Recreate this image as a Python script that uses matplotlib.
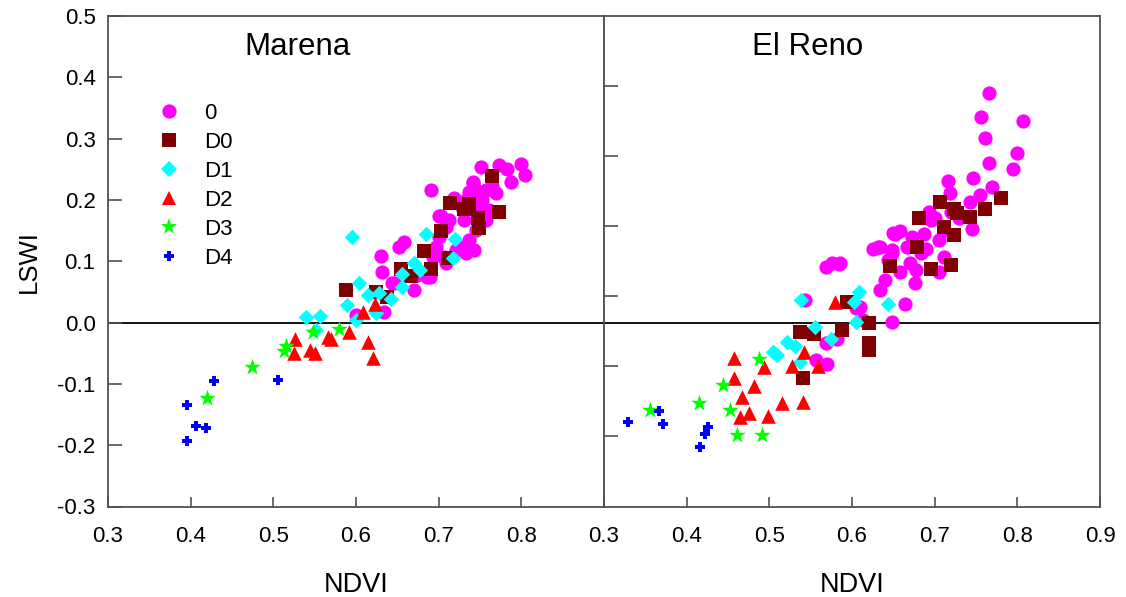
import matplotlib
matplotlib.use("Agg")
import matplotlib.pyplot as plt
import numpy as np
from matplotlib.lines import Line2D

plt.rcParams['font.family'] = ['Liberation Sans', 'DejaVu Sans']

categories = ['0', 'D0', 'D1', 'D2', 'D3', 'D4']
panel_titles = ['Marena', 'El Reno']
x_label = 'NDVI'
y_label = 'LSWI'
x_ticks = [0.3, 0.4, 0.5, 0.6, 0.7, 0.8, 0.9]
y_ticks = [-0.3, -0.2, -0.1, 0.0, 0.1, 0.2, 0.3, 0.4, 0.5]

# ---- Marena ----
mar_0_x = [0.691, 0.751, 0.773, 0.783, 0.800, 0.805, 0.787, 0.741, 0.737, 0.765, 0.719, 0.703, 0.731, 0.751,
           0.658, 0.652, 0.630, 0.631, 0.743, 0.689, 0.646, 0.670, 0.634, 0.600, 0.701, 0.713, 0.709, 0.701,
           0.697, 0.693, 0.707, 0.709, 0.721, 0.729, 0.733, 0.737, 0.745, 0.757, 0.761, 0.745, 0.729, 0.733,
           0.753, 0.769, 0.757, 0.745, 0.741, 0.686, 0.674, 0.644]
mar_0_y = [0.216, 0.253, 0.257, 0.250, 0.259, 0.241, 0.230, 0.227, 0.213, 0.222, 0.203, 0.173, 0.167, 0.167,
           0.132, 0.124, 0.108, 0.083, 0.118, 0.075, 0.065, 0.053, 0.018, 0.012, 0.173, 0.167, 0.156, 0.140,
           0.124, 0.107, 0.107, 0.097, 0.118, 0.124, 0.113, 0.135, 0.151, 0.167, 0.184, 0.184, 0.184, 0.200,
           0.200, 0.211, 0.216, 0.216, 0.230, 0.075, 0.077, 0.064]
mar_d0_x = [0.764, 0.714, 0.737, 0.731, 0.747, 0.749, 0.773, 0.703, 0.682, 0.691, 0.711, 0.654, 0.666, 0.588, 0.624, 0.638]
mar_d0_y = [0.239, 0.195, 0.193, 0.185, 0.170, 0.154, 0.181, 0.149, 0.117, 0.088, 0.105, 0.088, 0.076, 0.053, 0.050, 0.042]
mar_d1_x = [0.595, 0.685, 0.720, 0.717, 0.678, 0.670, 0.656, 0.604, 0.656, 0.614, 0.628, 0.642, 0.589, 0.624, 0.600,
            0.539, 0.557, 0.552]
mar_d1_y = [0.139, 0.144, 0.137, 0.105, 0.086, 0.097, 0.080, 0.064, 0.058, 0.045, 0.048, 0.039, 0.029, 0.015, 0.004,
            0.009, 0.011, -0.012]
mar_d2_x = [0.608, 0.623, 0.591, 0.614, 0.570, 0.526, 0.566, 0.621, 0.525, 0.544, 0.550]
mar_d2_y = [0.018, 0.031, -0.015, -0.031, -0.026, -0.026, -0.024, -0.058, -0.049, -0.044, -0.049]
mar_d3_x = [0.515, 0.513, 0.548, 0.579, 0.474, 0.420]
mar_d3_y = [-0.038, -0.046, -0.015, -0.010, -0.073, -0.123]
mar_d4_x = [0.428, 0.506, 0.395, 0.406, 0.418, 0.395]
mar_d4_y = [-0.095, -0.094, -0.135, -0.168, -0.172, -0.193]

# ---- El Reno ----
elr_0_x = [0.766, 0.756, 0.807, 0.761, 0.800, 0.766, 0.795, 0.746, 0.716, 0.769, 0.755, 0.719, 0.743, 0.693,
           0.729, 0.695, 0.745, 0.658, 0.652, 0.687, 0.711, 0.673, 0.705, 0.632, 0.648, 0.644, 0.666, 0.683,
           0.711, 0.670, 0.658, 0.677, 0.705, 0.586, 0.576, 0.568, 0.584, 0.634, 0.650, 0.648, 0.634, 0.648,
           0.610, 0.543, 0.568, 0.582, 0.557, 0.570, 0.605, 0.613, 0.664, 0.676, 0.690, 0.700, 0.720, 0.640, 0.625]
elr_0_y = [0.374, 0.336, 0.329, 0.301, 0.276, 0.260, 0.250, 0.235, 0.231, 0.221, 0.208, 0.211, 0.197, 0.181,
           0.170, 0.167, 0.152, 0.150, 0.144, 0.144, 0.151, 0.140, 0.135, 0.124, 0.118, 0.102, 0.124, 0.113,
           0.107, 0.097, 0.083, 0.086, 0.083, 0.097, 0.097, 0.091, 0.095, 0.124, 0.146, 0.113, 0.053, 0.001,
           0.026, 0.037, -0.034, -0.026, -0.061, -0.067, 0.023, 0.004, 0.031, 0.064, 0.120, 0.170, 0.180, 0.070, 0.120]
elr_d0_x = [0.780, 0.761, 0.743, 0.707, 0.723, 0.727, 0.681, 0.711, 0.723, 0.679, 0.646, 0.695, 0.720, 0.594,
            0.537, 0.554, 0.588, 0.620, 0.621, 0.621, 0.541]
elr_d0_y = [0.203, 0.186, 0.172, 0.197, 0.186, 0.178, 0.170, 0.156, 0.142, 0.124, 0.092, 0.087, 0.094, 0.034,
            -0.015, -0.018, -0.012, -0.001, -0.034, -0.045, -0.091]
elr_d1_x = [0.538, 0.608, 0.602, 0.605, 0.555, 0.574, 0.521, 0.531, 0.505, 0.509, 0.537, 0.643]
elr_d1_y = [0.037, 0.050, 0.034, 0.001, -0.007, -0.026, -0.031, -0.039, -0.048, -0.053, -0.064, 0.031]
elr_d2_x = [0.580, 0.457, 0.493, 0.542, 0.527, 0.559, 0.457, 0.481, 0.467, 0.515, 0.541, 0.475, 0.464, 0.498]
elr_d2_y = [0.034, -0.057, -0.073, -0.048, -0.071, -0.071, -0.091, -0.104, -0.122, -0.131, -0.129, -0.147, -0.154, -0.153]
elr_d3_x = [0.487, 0.444, 0.415, 0.453, 0.356, 0.461, 0.491]
elr_d3_y = [-0.060, -0.102, -0.131, -0.143, -0.142, -0.184, -0.184]
elr_d4_x = [0.329, 0.367, 0.371, 0.426, 0.422, 0.416]
elr_d4_y = [-0.162, -0.144, -0.166, -0.171, -0.181, -0.203]

colors = ['#FF00FF', '#7F0000', '#00FFFF', '#FF0000', '#00FF00', '#0000FF']
markers = ['o', 's', 'D', '^', '*', 'P']
sizes = [105, 90, 62, 110, 160, 55]

marena = [(mar_0_x, mar_0_y), (mar_d0_x, mar_d0_y), (mar_d1_x, mar_d1_y),
          (mar_d2_x, mar_d2_y), (mar_d3_x, mar_d3_y), (mar_d4_x, mar_d4_y)]
elreno = [(elr_0_x, elr_0_y), (elr_d0_x, elr_d0_y), (elr_d1_x, elr_d1_y),
          (elr_d2_x, elr_d2_y), (elr_d3_x, elr_d3_y), (elr_d4_x, elr_d4_y)]

fig = plt.figure(figsize=(11.26, 5.97), dpi=100)
W, H = 1126, 597
ax1 = fig.add_axes([108 / W, 1 - 506.5 / H, 496 / W, 490.5 / H])
ax2 = fig.add_axes([604 / W, 1 - 506.5 / H, 496 / W, 490.5 / H])

spine_col = '#505050'
for ax, data, title, tx in [(ax1, marena, panel_titles[0], 0.383), (ax2, elreno, panel_titles[1], 0.411)]:
    ax.set_xlim(0.3, 0.9)
    ax.set_ylim(-0.3, 0.5)
    ax.axhline(0.0, color='black', lw=1.3, zorder=1)
    for (xs, ys), c, m, s, lab in zip(data, colors, markers, sizes, categories):
        ax.scatter(xs, ys, s=s, marker=m, color=c, linewidths=0, zorder=3, label=lab)
    for sp in ax.spines.values():
        sp.set_color(spine_col)
        sp.set_linewidth(1.3)
    ax.text(tx, 0.937, title, transform=ax.transAxes, fontsize=22.5, ha='center', va='center')
    ax.set_xlabel(x_label, fontsize=19.5)
    ax.xaxis.set_label_coords(0.5, -0.133)

ax1.set_xticks(x_ticks)
ax1.set_xticklabels([f'{t:.1f}' for t in x_ticks[:-1]] + [''])
ax1.set_yticks(y_ticks)
ax1.set_yticklabels([f'{t:.1f}' for t in y_ticks])
ax1.tick_params(axis='both', direction='in', labelsize=16, color=spine_col, width=1.2)
ax1.tick_params(axis='y', length=10, pad=9)
ax1.tick_params(axis='x', length=7, pad=14)
ax1.set_ylabel(y_label, fontsize=18.5, labelpad=12)

ax2.set_xticks(x_ticks)
ax2.set_xticklabels([f'{t:.1f}' for t in x_ticks])
ax2.set_yticks(np.linspace(-0.3, 0.5, 8)[1:-1])
ax2.set_yticklabels([])
ax2.tick_params(axis='both', direction='in', labelsize=16, color=spine_col, width=1.2)
ax2.tick_params(axis='y', length=10)
ax2.tick_params(axis='x', length=7, pad=14)

handles = [Line2D([], [], marker=m, color=c, linestyle='none', markeredgewidth=0, markersize=np.sqrt(s))
           for m, c, s in zip(markers, colors, sizes)]
ax1.legend(handles, categories, loc='upper left', bbox_to_anchor=(0.066, 0.845), frameon=False,
           fontsize=16, handletextpad=0.85, labelspacing=0.36, borderpad=0, handlelength=1.5)

fig.savefig('out.png', dpi=100)
